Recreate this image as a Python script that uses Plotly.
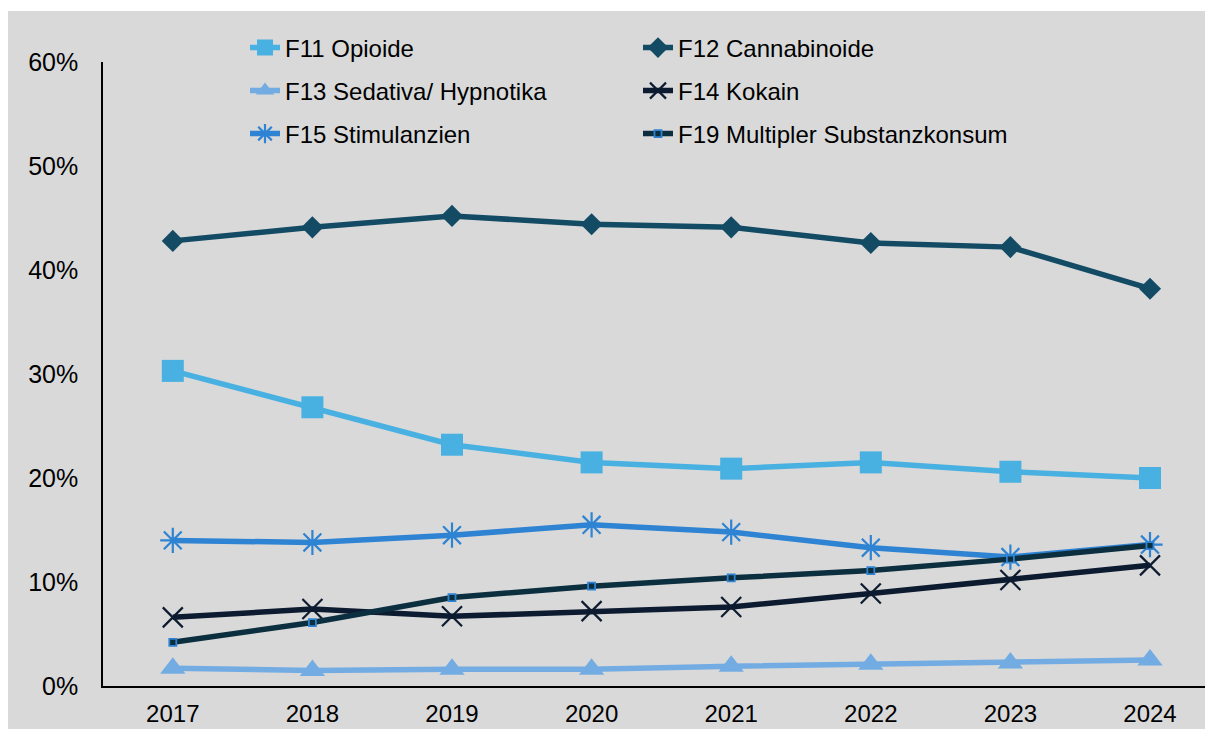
import plotly.graph_objects as go

years = ["2017", "2018", "2019", "2020", "2021", "2022", "2023", "2024"]
f11 = [30.3, 26.8, 23.2, 21.5, 20.9, 21.5, 20.6, 20.0]
f12 = [42.8, 44.1, 45.2, 44.4, 44.1, 42.6, 42.2, 38.2]
f13 = [1.7, 1.5, 1.6, 1.6, 1.9, 2.1, 2.2, 2.5]
f14 = [6.6, 7.4, 6.7, 7.2, 7.6, 8.9, 10.2, 11.6]
f15 = [14.0, 13.8, 14.5, 15.5, 14.8, 13.3, 12.4, 13.6]
f19 = [4.2, 6.1, 8.5, 9.6, 10.4, 11.1, 12.2, 13.5]

names = ["F11 Opioide", "F12 Cannabinoide", "F13 Sedativa/ Hypnotika",
         "F14 Kokain", "F15 Stimulanzien", "F19 Multipler Substanzkonsum"]

BG = "#D9D9D9"
FONT = "Liberation Sans, Arial, sans-serif"

fig = go.Figure()

def add(vals, name, color, symbol, size, mcolor=None, mline=None, mlw=0, legend="legend"):
    fig.add_trace(go.Scatter(
        x=years, y=[v / 100 for v in vals], name=name, mode="lines+markers",
        line=dict(color=color, width=5.5),
        marker=dict(symbol=symbol, size=size, color=mcolor or color,
                    line=dict(color=mline or color, width=mlw)),
        legend=legend,
    ))

add(f11, names[0], "#48B1E1", "square", 22, legend="legend")
add(f12, names[1], "#134B65", "diamond", 17, legend="legend2")
add(f13, names[2], "#73ACE2", "triangle-up", 22, legend="legend3")
add(f14, names[3], "#0C1B30", "x-thin", 20, mlw=2.2, legend="legend4")
add(f15, names[4], "#2E83D3", "asterisk", 21, mlw=2.2, legend="legend5")
add(f19, names[5], "#0C2F40", "square", 7, mcolor="#0C2F40", mline="#2E83D3", mlw=1.8, legend="legend6")

W, H = 1205, 729
L, R, T, B = 103, 0, 62, 43
pw, ph = W - L - R, H - T - B

def px(x):
    return (x - L) / pw

def py(y):
    return (H - B - y) / ph

leg_font = dict(family=FONT, size=24, color="#000000")
col_x = [px(245), px(638)]
row_y = [py(48), py(91), py(134)]

legends = {}
keys = ["legend", "legend2", "legend3", "legend4", "legend5", "legend6"]
for i, k in enumerate(keys):
    legends[k] = dict(x=col_x[i % 2], y=row_y[i // 2], xanchor="left", yanchor="middle",
                      bgcolor="rgba(0,0,0,0)", font=leg_font, borderwidth=0)

fig.update_layout(
    width=W, height=H,
    margin=dict(l=L, r=R, t=T, b=B, autoexpand=False),
    paper_bgcolor=BG, plot_bgcolor=BG,
    font=dict(family=FONT, size=25, color="#000000"),
    showlegend=True,
    hovermode=False,
    xaxis=dict(type="category", range=[-0.5, 7.394], showgrid=False, zeroline=False,
               showline=True, linecolor="#000000", linewidth=2, ticks="",
               tickfont=dict(size=24), ticklabelstandoff=5, automargin=False),
    yaxis=dict(range=[0, 0.6], tickvals=[0, 0.1, 0.2, 0.3, 0.4, 0.5, 0.6],
               tickformat=".0%", showgrid=False, zeroline=False,
               showline=True, linecolor="#000000", linewidth=1.5, ticks="",
               tickfont=dict(size=25), ticklabelstandoff=18, automargin=False),
    shapes=[
        dict(type="rect", xref="paper", yref="paper", x0=px(0), x1=px(8), y0=py(H), y1=py(0),
             fillcolor="#FFFFFF", line=dict(width=0), layer="above"),
        dict(type="rect", xref="paper", yref="paper", x0=px(0), x1=px(W), y0=py(11), y1=py(0),
             fillcolor="#FFFFFF", line=dict(width=0), layer="above"),
    ],
    **legends,
)

fig.write_html(
    "out.html",
    config={"displayModeBar": False},
    post_script=(
        "document.documentElement.style.overflow='hidden';"
        "document.documentElement.style.background='#D9D9D9';"
        "document.body.style.margin='0';document.body.style.overflow='hidden';"
        "document.body.style.background='#D9D9D9';"
        "var d=document.getElementById('{plot_id}');"
        "d.style.position='fixed';d.style.left='0px';d.style.top='0px';"
    ),
)
